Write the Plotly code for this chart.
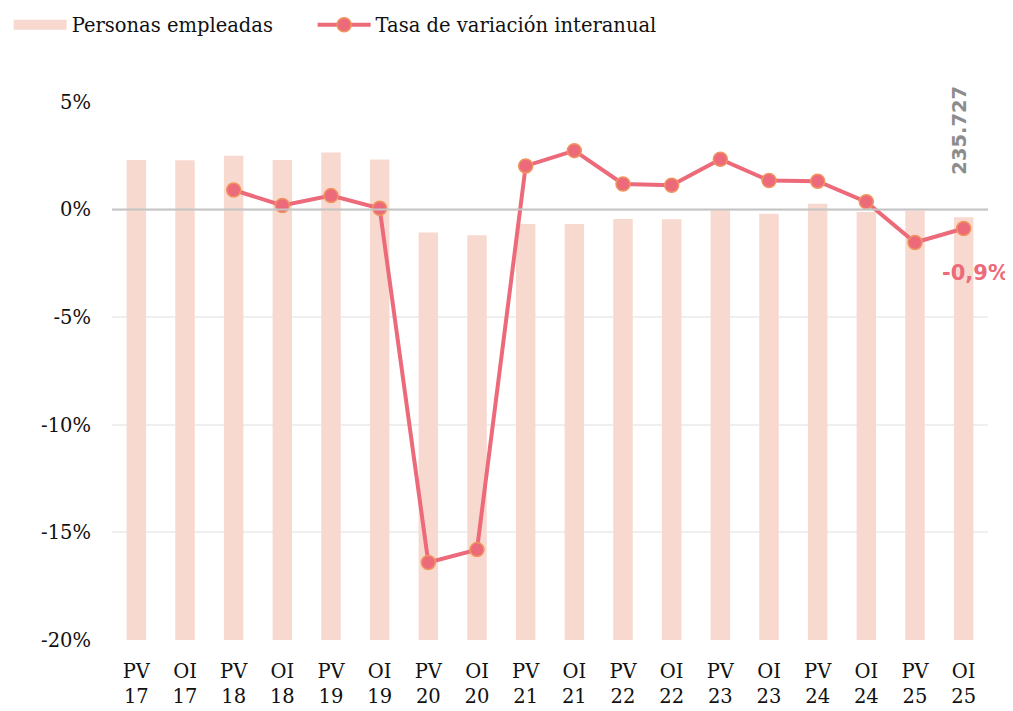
import plotly.graph_objects as go

# Periods (PV = primavera-verano, OI = otoño-invierno)
periods = ["PV 17", "OI 17", "PV 18", "OI 18", "PV 19", "OI 19", "PV 20", "OI 20", "PV 21",
           "OI 21", "PV 22", "OI 22", "PV 23", "OI 23", "PV 24", "OI 24", "PV 25", "OI 25"]
period_labels = [p.replace(" ", "<br>") for p in periods]

# Personas empleadas (bars, secondary scale)
employed = [267600, 267500, 270050, 267650, 271900, 268000, 227300, 225700, 232000,
            232000, 234750, 234600, 240300, 237700, 243300, 238650, 239400, 235727]

# Tasa de variación interanual (%), no data for the first two periods
yoy_rate = [None, None, 0.91, 0.19, 0.65, 0.06, -16.4, -15.8, 2.03,
            2.74, 1.19, 1.13, 2.34, 1.35, 1.32, 0.36, -1.53, -0.88]

pct_ticks = [-20, -15, -10, -5, 0, 5]
pct_ticktext = ["-20%", "-15%", "-10%", "-5%", "0%", "5%"]

BAR_COLOR = "#f8d9d0"
LINE_COLOR = "#ec6a79"
MARKER_EDGE = "#f0955e"
SERIF = "DejaVu Serif, Liberation Serif, serif"

fig = go.Figure()

fig.add_trace(go.Bar(
    x=periods, y=employed,
    name="Personas empleadas",
    marker=dict(color=BAR_COLOR, line=dict(width=0)),
    width=0.4,
    yaxis="y",
    showlegend=False,
    hoverinfo="skip",
))

# legend entry for the bars: a wide flat swatch like the original
fig.add_trace(go.Scatter(
    x=[None], y=[None],
    name="Personas empleadas",
    mode="lines",
    line=dict(color=BAR_COLOR, width=17),
    yaxis="y",
    legend="legend",
))

fig.add_trace(go.Scatter(
    x=periods, y=yoy_rate,
    name="Tasa de variación interanual",
    mode="lines+markers",
    line=dict(color=LINE_COLOR, width=4),
    marker=dict(color=LINE_COLOR, size=14, line=dict(color=MARKER_EDGE, width=1.5)),
    yaxis="y2",
    legend="legend2",
))

# zero line drawn over the bars
fig.add_shape(
    type="line", xref="paper", x0=0, x1=1, yref="y2", y0=0, y1=0,
    line=dict(color="#c4c4c4", width=2), layer="above",
)

# last values
last_rate = yoy_rate[-1]
fig.add_annotation(
    x=periods[-1], y=last_rate, xref="x", yref="y2",
    text=f"<b>{last_rate:.1f}%</b>".replace(".", ","),
    showarrow=False, xshift=12, yshift=-44,
    font=dict(family="DejaVu Sans", size=21, color=LINE_COLOR),
)
fig.add_annotation(
    x=periods[-1], y=0.948, xref="x", yref="paper",
    text=f"<b>{employed[-1]:,}</b>".replace(",", "."),
    textangle=-90, showarrow=False, xshift=-4, yanchor="middle",
    font=dict(family="DejaVu Sans", size=19.5, color="#8c8c8c"),
)

legend_style = dict(
    orientation="h", xanchor="left", y=1.143, yanchor="middle",
    font=dict(family=SERIF, size=19.5), itemwidth=53,
)

# the page body adds an 8px offset, so the figure is 8px smaller than the window
fig.update_layout(
    width=1005, height=703,
    plot_bgcolor="white", paper_bgcolor="white",
    font=dict(family=SERIF, size=19.5, color="#111111"),
    margin=dict(l=104, r=25, t=94, b=71, autoexpand=False),
    showlegend=True,
    legend=dict(x=-0.118, **legend_style),
    legend2=dict(x=0.229, **legend_style),
    xaxis=dict(
        type="category", tickvals=periods, ticktext=period_labels,
        showgrid=False, zeroline=False, showline=False, ticks="",
        range=[-0.5, len(periods) - 0.5], ticklabelstandoff=17,
    ),
    yaxis=dict(range=[0, 300000], visible=False, showgrid=False, zeroline=False),
    yaxis2=dict(
        overlaying="y", side="left", range=[-20, 5],
        tickvals=pct_ticks, ticktext=pct_ticktext,
        showgrid=True, gridcolor="#efefef", gridwidth=1.5,
        zeroline=False, showline=False, ticks="", ticklabelstandoff=20,
    ),
)

fig.write_html("out.html")
